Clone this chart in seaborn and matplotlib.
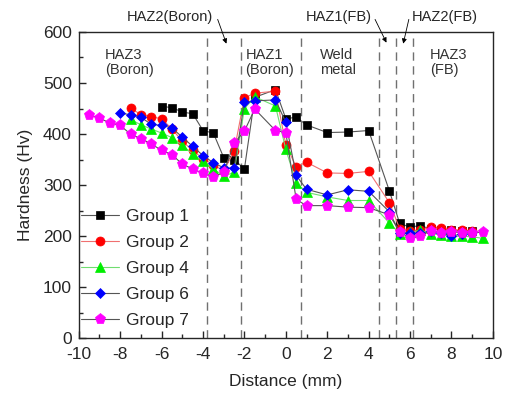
import matplotlib
matplotlib.use("Agg")
import matplotlib.pyplot as plt
import seaborn as sns
import pandas as pd
from matplotlib.ticker import MultipleLocator

sns.set_style("ticks")
plt.rcParams['font.family'] = ['Liberation Sans', 'DejaVu Sans']
plt.rcParams['axes.unicode_minus'] = False

# ---- data ----
g1_x = [-6, -5.5, -5, -4.5, -4, -3.5, -3, -2.5, -2, -1.5, -0.5, 0, 0.5, 1, 2, 3, 4, 5, 5.5, 6, 6.5, 7, 7.5, 8, 8.5, 9]
g1_y = [454, 452, 443, 440, 407, 402, 354, 350, 332, 472, 487, 430, 433, 418, 403, 404, 407, 289, 225, 218, 221, 214, 213, 212, 210, 211]

g2_x = [-7.5, -7, -6.5, -6, -5.5, -5, -4.5, -4, -3.5, -3, -2.5, -2, -1.5, -0.5, 0, 0.5, 1, 2, 3, 4, 5, 5.5, 6, 6.5, 7, 7.5, 8, 8.5, 9]
g2_y = [451, 438, 434, 430, 410, 386, 368, 352, 340, 328, 366, 471, 480, 484, 379, 336, 345, 324, 323, 327, 266, 215, 210, 212, 218, 216, 213, 212, 210]

g4_x = [-7.5, -7, -6.5, -6, -5.5, -5, -4.5, -4, -3.5, -3, -2.5, -2, -1.5, -0.5, 0, 0.5, 1, 2, 3, 4, 5, 5.5, 6, 6.5, 7, 7.5, 8, 8.5, 9, 9.5]
g4_y = [429, 418, 410, 402, 393, 378, 361, 347, 332, 318, 325, 450, 473, 455, 370, 305, 286, 277, 270, 270, 226, 205, 208, 212, 205, 203, 200, 200, 199, 196]

g6_x = [-8, -7.5, -7, -6.5, -6, -5.5, -5, -4.5, -4, -3.5, -3, -2.5, -2, -1.5, -0.5, 0, 0.5, 1, 2, 3, 4, 5, 5.5, 6, 6.5, 7, 7.5, 8, 8.5, 9]
g6_y = [441, 438, 433, 419, 417, 412, 394, 376, 358, 344, 334, 333, 463, 465, 467, 423, 319, 292, 281, 291, 288, 248, 206, 207, 206, 210, 207, 200, 205, 208]

g7_x = [-9.5, -9, -8.5, -8, -7.5, -7, -6.5, -6, -5.5, -5, -4.5, -4, -3.5, -3, -2.5, -2, -1.5, -0.5, 0, 0.5, 1, 2, 3, 4, 5, 5.5, 6, 6.5, 7, 7.5, 8, 8.5, 9, 9.5]
g7_y = [438, 431, 422, 417, 400, 391, 381, 368, 360, 341, 332, 323, 316, 325, 382, 406, 449, 407, 403, 272, 260, 260, 257, 256, 242, 209, 196, 200, 211, 207, 209, 207, 207, 208]

group_labels = ["Group 1", "Group 2", "Group 4", "Group 6", "Group 7"]
boundaries = [-3.82, -2.17, 0.71, 4.49, 5.31, 6.15]
region_labels = ["HAZ3\n(Boron)", "HAZ1\n(Boron)", "Weld\nmetal", "HAZ3\n(FB)"]
region_x = [-8.75, -1.95, 1.65, 6.95]
top_labels = ["HAZ2(Boron)", "HAZ1(FB)", "HAZ2(FB)"]

# ---- figure ----
fig = plt.figure(figsize=(5.05, 3.94), dpi=100)
ax = fig.add_axes([0.156, 0.141, 0.82, 0.778])

series = [
    (g1_x, g1_y, 's', 'black', '#555555'),
    (g2_x, g2_y, 'o', 'red', '#f07070'),
    (g4_x, g4_y, '^', '#00ee00', '#70dd70'),
    (g6_x, g6_y, 'D', 'blue', '#555555'),
    (g7_x, g7_y, 'p', '#ff00ff', '#555555'),
]
msizes = {'s': 6, 'o': 6.5, '^': 7, 'D': 5.5, 'p': 8}
for (xs, ys, mk, mc, lc), lab in zip(series, group_labels):
    df = pd.DataFrame({"Distance": xs, "Hardness": ys})
    sns.lineplot(data=df, x="Distance", y="Hardness", ax=ax, sort=False, estimator=None,
                 color=lc, linewidth=0.8, marker=mk, markersize=msizes[mk],
                 markerfacecolor=mc, markeredgecolor=mc, markeredgewidth=0.5, label=lab)

for b in boundaries:
    ax.axvline(b, color='#707070', lw=1.0, ls=(0, (6, 4)), zorder=0)

ax.set_xlim(-10, 10)
ax.set_ylim(0, 600)
ax.xaxis.set_major_locator(MultipleLocator(2))
ax.xaxis.set_minor_locator(MultipleLocator(1))
ax.yaxis.set_major_locator(MultipleLocator(100))
ax.yaxis.set_minor_locator(MultipleLocator(50))
ax.tick_params(which='both', direction='in', top=False, right=False, labelsize=12.5, width=1)
ax.tick_params(which='major', length=5)
ax.tick_params(which='minor', length=3)
ax.tick_params(axis='x', which='major', pad=6)
ax.tick_params(axis='y', which='major', pad=5)
for s in ax.spines.values():
    s.set_linewidth(1.0)
ax.set_xlabel("Distance (mm)", fontsize=12.5, labelpad=9)
ax.set_ylabel("Hardness (Hv)", fontsize=12.5, labelpad=7)

for t, xx in zip(region_labels, region_x):
    ax.text(xx, 568, t, fontsize=10.5, color='#333333', va='top', ha='left', linespacing=1.1)

# labels above the axes with arrows
ax.annotate(top_labels[0], xy=(-2.87, 577), xytext=(-3.5, 630), fontsize=10.5, ha='right', va='center',
            annotation_clip=False,
            arrowprops=dict(arrowstyle='-|>', lw=0.6, color='black', shrinkA=0, shrinkB=0,
                            mutation_scale=7, relpos=(1.05, 0.3)))
ax.annotate(top_labels[1], xy=(4.86, 579), xytext=(4.15, 630), fontsize=10.5, ha='right', va='center',
            annotation_clip=False,
            arrowprops=dict(arrowstyle='-|>', lw=0.6, color='black', shrinkA=0, shrinkB=0,
                            mutation_scale=7, relpos=(1.05, 0.3)))
ax.annotate(top_labels[2], xy=(5.67, 577), xytext=(6.1, 630), fontsize=10.5, ha='left', va='center',
            annotation_clip=False,
            arrowprops=dict(arrowstyle='-|>', lw=0.6, color='black', shrinkA=0, shrinkB=0,
                            mutation_scale=7, relpos=(-0.05, 0.3)))

leg = ax.legend(loc='lower left', bbox_to_anchor=(-0.02, 0.0), frameon=False, fontsize=12.5,
                handlelength=2.2, labelspacing=0.63, handletextpad=0.4, borderaxespad=0.2)

fig.savefig("out.png", dpi=100)
